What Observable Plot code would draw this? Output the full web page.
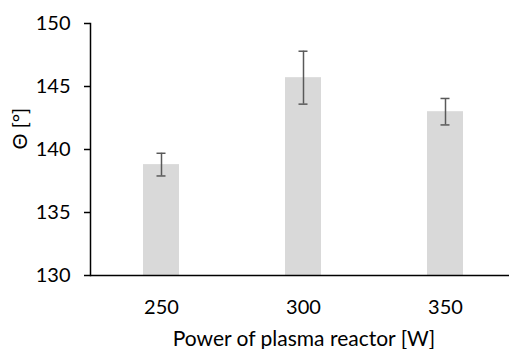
<!DOCTYPE html>
<html>
<head>
<meta charset="utf-8">
<script src="https://cdn.jsdelivr.net/npm/d3@7"></script>
<script src="https://cdn.jsdelivr.net/npm/@observablehq/plot@0.6"></script>
<style>
  html, body { margin: 0; padding: 0; background: #fff; }
</style>
</head>
<body>
<div id="chart"></div>
<script>
const powers = ["250", "300", "350"];
const theta = [138.8, 145.7, 143.0];
const errors = [0.9, 2.1, 1.05];
const yTicks = [130, 135, 140, 145, 150];
const xTitle = "Power of plasma reactor [W]";
const yTitle = "Θ [°]";

const data = powers.map((p, i) => ({power: p, value: theta[i], lo: theta[i] - errors[i], hi: theta[i] + errors[i]}));

const chart = Plot.plot({
  width: 509,
  height: 349,
  marginLeft: 90,
  marginRight: 0,
  marginTop: 23,
  marginBottom: 74,
  style: {fontFamily: "Lato, sans-serif", fontSize: "20px", color: "#000", background: "#fff"},
  x: {domain: powers, range: [90, 517], paddingInner: 0.746, paddingOuter: 0.373},
  y: {domain: [130, 150]},
  marks: [
    Plot.barY(data, {x: "power", y1: 130, y2: "value", fill: "#d9d9d9"}),
    Plot.ruleX(data, {x: "power", y1: "lo", y2: "hi", stroke: "#595959", strokeWidth: 1.5}),
    Plot.tickY(data, {x: "power", y: "lo", stroke: "#595959", strokeWidth: 1.5, insetLeft: 13.5, insetRight: 13.5}),
    Plot.tickY(data, {x: "power", y: "hi", stroke: "#595959", strokeWidth: 1.5, insetLeft: 13.5, insetRight: 13.5}),
    Plot.axisY({ticks: yTicks, tickSize: 6, tickPadding: 14, label: null, fontSize: 20, stroke: "#000", strokeWidth: 1.5}),
    Plot.axisX({tickSize: 0, tickPadding: 24, label: null, fontSize: 20}),
    Plot.frame({anchor: "left", stroke: "#000", strokeWidth: 1.5}),
    Plot.ruleY([130], {stroke: "#000", strokeWidth: 1.5}),
    Plot.text([yTitle], {frameAnchor: "left", rotate: -90, dx: -70, fontSize: 20, fill: "#000"}),
    Plot.text([xTitle], {frameAnchor: "bottom", dy: 70, dx: 4, fontSize: 21, fill: "#000"})
  ]
});
document.getElementById("chart").appendChild(chart);
</script>
</body>
</html>
